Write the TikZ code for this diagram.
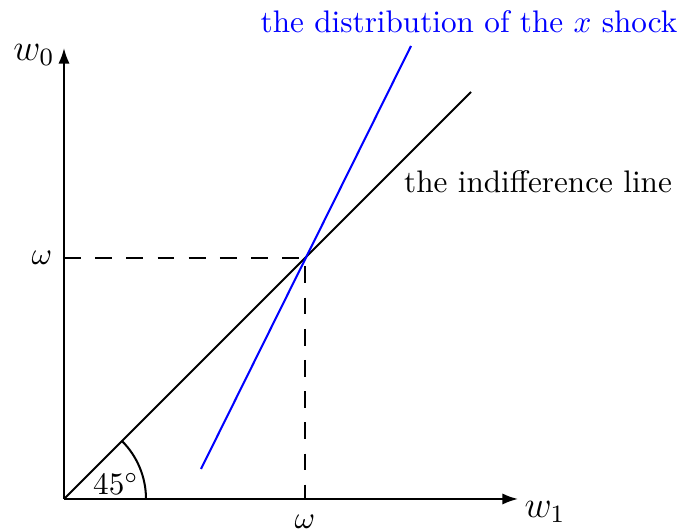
\documentclass[tikz,border=0pt]{standalone}
\usetikzlibrary{arrows.meta}
\begin{document}
\begin{tikzpicture}[x=0.3207pt,y=0.3207pt,
  axis/.style={line width=0.65pt,-{Latex[length=5pt,width=3.6pt]}},
  ln/.style={line width=0.65pt},
  dsh/.style={line width=0.65pt,dash pattern=on 5.4pt off 4.6pt},
  lbl/.style={inner sep=0pt}]
\useasboundingbox (0,0) rectangle (678,531);
\coordinate (O) at (64,32);
\coordinate (ytop) at (64,483);
\coordinate (xend) at (518,32);
\coordinate (P) at (305,273);
\coordinate (Lend) at (471,439);
\coordinate (B1) at (201,62);
\coordinate (B2) at (411,485);
\coordinate (Py) at (64,273);
\coordinate (Px) at (305,32);
\draw[axis] (O) -- (ytop);
\draw[axis] (O) -- (xend);
\draw[ln] (O) -- (Lend);
\draw[ln,blue] (B1) -- (B2);
\draw[dsh] (Py) -- (P) -- (Px);
\draw[ln] (146,32) arc[start angle=0,end angle=45,radius=82];
\node[lbl] (w0) at (34,476) {\large $w_0$};
\node[lbl] (w1) at (545,19) {\large $w_1$};
\node[lbl] (om1) at (42,273) {$\omega$};
\node[lbl] (om2) at (305,9) {$\omega$};
\node[lbl] (ang) at (116,47) {$45^\circ$};
\node[lbl] (ind) at (538,349) {the indifference line};
\node[lbl,blue] (dist) at (469,509) {the distribution of the $x$ shock};
\end{tikzpicture}
\end{document}
